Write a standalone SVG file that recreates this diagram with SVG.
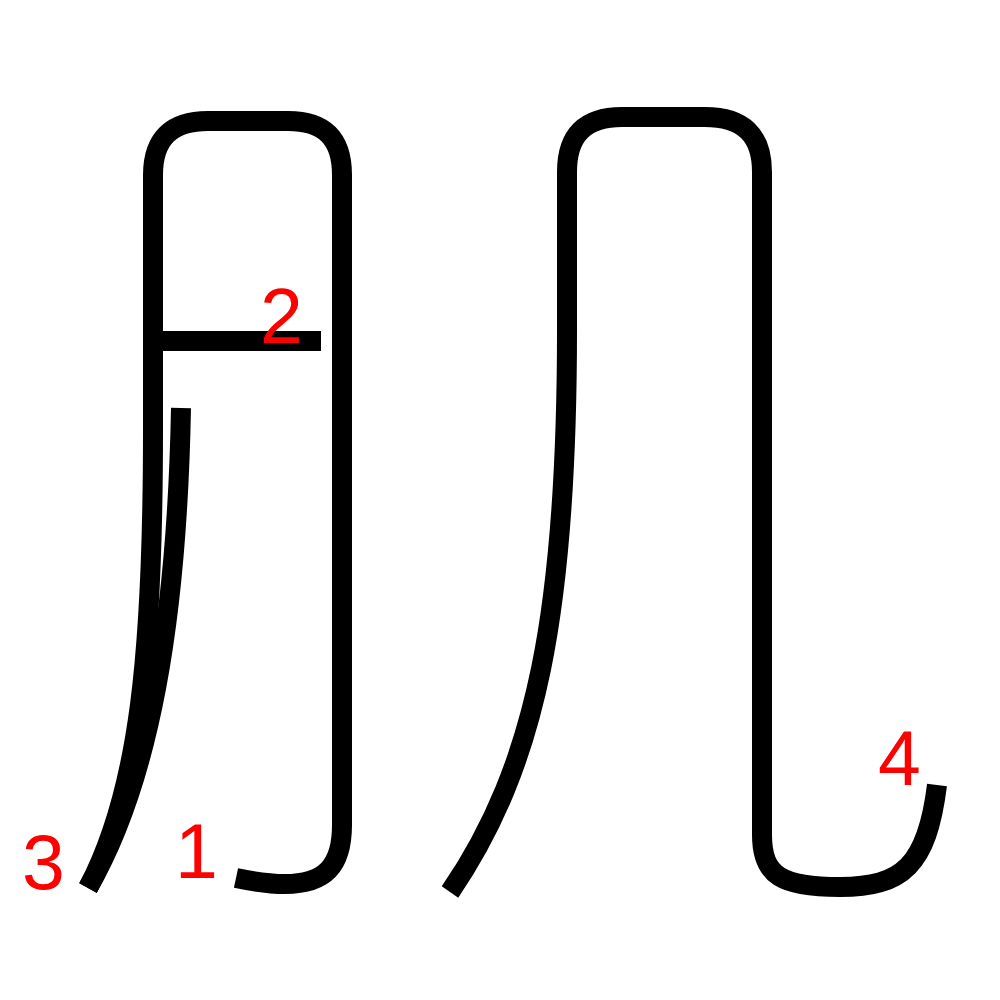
<svg xmlns="http://www.w3.org/2000/svg" width="1000" height="1000" viewBox="0 0 1000 1000">
<style>
.s{fill:none;stroke:#000;stroke-width:20;stroke-linecap:butt;stroke-linejoin:round}
.n{fill:#f00;font-family:"Liberation Sans",Arial,sans-serif;font-size:77px}
</style>
<rect width="1000" height="1000" fill="#fff"/>
<g id="strokes">
<path id="s1" class="s" d="M236 878 C255 882 270 884 285 884 C325 884 342 866 342 825 L342 175 C342 138 324 121 288 121 L208 121 C172 121 153 138 153 175 L153 430 C153 650 140 790 88 888"/>
<path id="s2" class="s" d="M163 341 L321 341"/>
<path id="s3" class="s" d="M181 408 C177 620 150 780 88 888"/>
<path id="s4" class="s" d="M450 892 C537 765 567 610 567 330 L567 172 C567 135 585 117 622 117 L705 117 C743 117 762 135 762 172 L762 835 C762 876 782 887 840 887 C902 887 927 866 937 785"/>
</g>
<g id="labels">
<text class="n" x="175" y="878">1</text>
<text class="n" x="260" y="343">2</text>
<text class="n" x="22" y="889">3</text>
<text class="n" x="878" y="785">4</text>
</g>
</svg>
